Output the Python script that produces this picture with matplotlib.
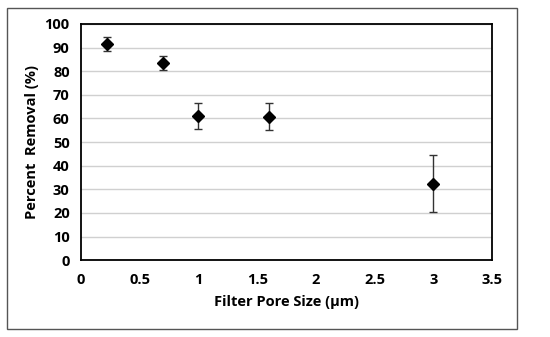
import matplotlib.pyplot as plt
from matplotlib.patches import Rectangle

plt.rcParams['font.family'] = ['Open Sans', 'DejaVu Sans']

pore_size = [0.22, 0.7, 1.0, 1.6, 3.0]
removal = [91.5, 83.6, 61.1, 60.7, 32.4]
removal_err = [3.0, 3.0, 5.6, 5.8, 12.0]

fig = plt.figure(figsize=(5.5, 3.37), dpi=100)
ax = fig.add_axes([0.147, 0.228, 0.748, 0.701])

ax.errorbar(pore_size, removal, yerr=removal_err, fmt='D', color='black',
            markersize=6.5, ecolor='#333333', elinewidth=1, capsize=3,
            capthick=1, zorder=3)

ax.set_xlim(0, 3.5)
ax.set_ylim(0, 100)
ax.set_xticks([0, 0.5, 1, 1.5, 2, 2.5, 3, 3.5])
ax.set_xticklabels(['0', '0.5', '1', '1.5', '2', '2.5', '3', '3.5'])
ax.set_yticks(range(0, 101, 10))
ax.yaxis.grid(True, color='#d0d0d0', linewidth=1)
ax.set_axisbelow(True)
ax.tick_params(length=0, labelsize=10.5)
ax.tick_params(axis='x', pad=9)
ax.tick_params(axis='y', pad=8)
for lab in ax.get_xticklabels() + ax.get_yticklabels():
    lab.set_fontweight('bold')
for s in ax.spines.values():
    s.set_linewidth(1.3)
    s.set_color('black')

ax.set_xlabel('Filter Pore Size (\u03bcm)', fontsize=10.5, fontweight='bold', labelpad=6)
ax.set_ylabel('Percent  Removal (%)', fontsize=10.5, fontweight='bold', labelpad=4)

# outer chart border
fig.patches.append(Rectangle((7 / 550, 1 - 329 / 337), 510 / 550, 321 / 337,
                             transform=fig.transFigure, fill=False,
                             edgecolor='#555555', linewidth=1))

plt.savefig('out.png', dpi=100)
